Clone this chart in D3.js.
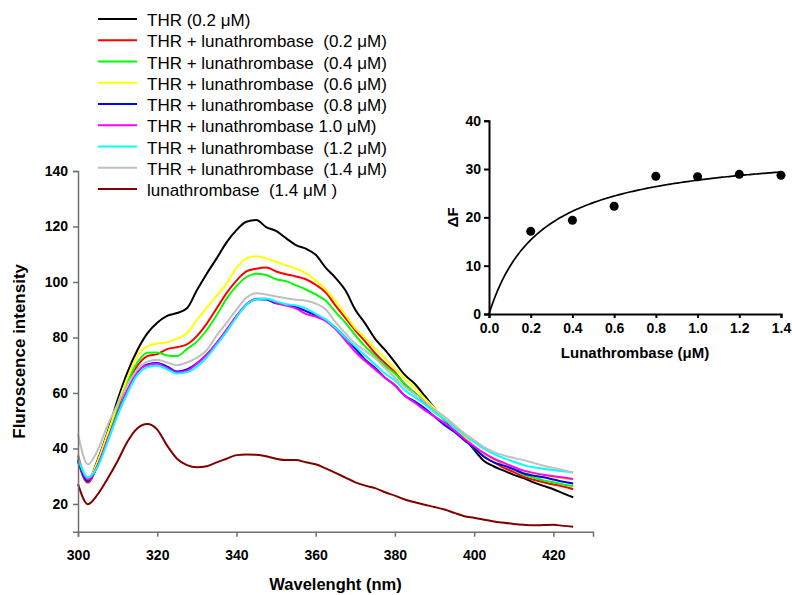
<!DOCTYPE html>
<html>
<head>
<meta charset="utf-8">
<script src="https://cdn.jsdelivr.net/npm/d3@7"></script>
<style>
  html, body { margin: 0; padding: 0; background: #fff; }
  svg { display: block; font-family: "Liberation Sans", Arial, sans-serif; }
</style>
</head>
<body>
<div id="chart"></div>
<script>
// Emission spectra (nm -> intensity)
const wavelengths = [
  300, 302.5, 305, 307.5, 310, 312.5, 315, 317.5, 320, 322.5,
  325, 327.5, 330, 332.5, 335, 337.5, 340, 342.5, 345, 347.5,
  350, 352.5, 355, 357.5, 360, 362.5, 365, 367.5, 370, 372.5,
  375, 377.5, 380, 382.5, 385, 387.5, 390, 392.5, 395, 397.5,
  400, 402.5, 405, 407.5, 410, 412.5, 415, 417.5, 420, 422.5, 425,
];

const thr02 = [
  36, 28.5, 36, 46, 57.5, 67.5, 75.5, 81.5, 85.3, 87.8,
  88.8, 90.5, 97, 103, 108.5, 114.3, 118.7, 121.7, 122.3, 119.8,
  118.4, 115.8, 113.3, 112, 109.8, 105.2, 101.5, 97, 90, 85,
  79.5, 75.5, 71, 66.5, 63.3, 59, 54.5, 50.3, 47, 44,
  39.5, 35.5, 33.5, 32, 30.5, 29.3, 27.8, 26.5, 25.3, 23.8, 22.4,
];
const lun02 = [
  35.2, 27.7, 34.5, 44.5, 54.5, 63.5, 69.8, 73.3, 74, 75.8,
  76.5, 77.5, 80.5, 85, 90.5, 96, 100.5, 103.8, 104.8, 105.2,
  103.8, 102.8, 102, 101, 99, 96.3, 91.5, 87, 82.5, 78.5,
  74.3, 70.8, 67.5, 63, 60, 56.5, 53.8, 51, 47.8, 44.5,
  40.5, 37, 35, 33, 31.5, 29.8, 28.7, 27.8, 27, 26.3, 25.3,
];
const lun04 = [
  36, 28.2, 35, 45, 55, 64, 71, 74.5, 74.6, 73.5,
  73.3, 75.8, 78.5, 82.7, 88, 94, 98.5, 101.8, 103, 102.5,
  101, 100.3, 98.8, 97.3, 95.5, 93.3, 89.2, 85.3, 80.8, 76.8,
  73.3, 69.8, 67, 63.3, 60, 57, 53.5, 50.5, 47.3, 44,
  40, 37.5, 35.8, 34, 32.5, 30.5, 29.5, 28.5, 27.8, 27, 26.5,
];
const lun06 = [
  38, 28.8, 35.5, 45.5, 56, 65.5, 73.5, 76.8, 77.8, 78.3,
  79.6, 81.5, 86.3, 90.8, 95, 99.4, 105, 108.5, 109.3, 108.5,
  107.3, 106, 104.8, 103.2, 100.5, 97.3, 93, 88.2, 83.3, 79.8,
  76, 72.5, 68.8, 65.2, 61.8, 58, 54.5, 51, 47.5, 44.5,
  40.5, 38, 35.5, 34, 32.5, 31.5, 30.5, 30, 29.5, 29.2, 28.7,
];
const lun08 = [
  36, 28.3, 34, 43, 52.5, 61, 67.5, 70.3, 70.8, 69.5,
  67.7, 68.5, 70.7, 73.8, 78, 82.5, 87.5, 91.8, 93.8, 93.7,
  92.3, 91.8, 91, 89.5, 88, 86.3, 83.5, 80, 76, 72,
  69, 65.5, 62.8, 59, 57, 54.5, 51.5, 48.5, 46, 43,
  40.2, 37, 35, 33.8, 32.5, 31, 30.2, 29.6, 28.8, 28, 27.4,
];
const lun10 = [
  37.5, 28.8, 34, 43.5, 52.5, 61, 67.8, 70, 70.5, 69,
  67.4, 68, 70.5, 73.8, 78, 82.8, 87.8, 92, 94, 94,
  92.5, 91.5, 90.5, 88.5, 87.5, 86, 83, 79, 74.8, 71.5,
  68.5, 65.5, 62.8, 59, 56.5, 53.8, 51.5, 49.2, 46.5, 43.5,
  40.8, 38.3, 36.3, 34.8, 33.3, 32, 31.2, 30.5, 30, 29.5, 29,
];
const lun12 = [
  36.5, 29.6, 33.5, 42.5, 52, 60, 66.5, 69.3, 69.8, 68.5,
  67, 67.5, 69.5, 72.8, 77.3, 82, 87.3, 91.8, 93.8, 94,
  93, 92, 91.5, 90.5, 88.5, 86.5, 83.5, 80, 76.8, 73.5,
  70.3, 67, 64.5, 61, 58.5, 56, 53, 50.5, 47.5, 45,
  42.3, 39.8, 38, 36.5, 35.2, 34, 33.2, 32.7, 32.2, 31.8, 31.3,
];
const lun14 = [
  45.2, 34.3, 39.5, 48.5, 56, 63, 68.5, 71.3, 72, 71,
  70, 71, 72.7, 75.5, 80.7, 85.3, 90, 94.3, 95.9, 95.5,
  94.8, 94.1, 93.6, 93.2, 92.2, 90.2, 85.5, 81.5, 77.8, 75.2,
  72.5, 69, 65.5, 62.2, 59.5, 57, 54, 51.5, 48.5, 45.5,
  43, 40.5, 38.7, 37.5, 36.6, 35.8, 34.8, 33.8, 33, 32.2, 31.3,
];
const lunOnly = [
  27.2, 19.9, 23.5, 29.2, 35.5, 42.5, 47.3, 48.8, 46.8, 41,
  36.3, 34, 33.2, 33.6, 35, 36.3, 37.6, 37.8, 37.7, 37.2,
  36.3, 35.8, 35.8, 35, 34.3, 32.8, 31.2, 29.5, 27.8, 26.6,
  25.7, 24.2, 23, 21.6, 20.6, 19.7, 18.9, 18, 16.8, 15.6,
  15, 14.3, 13.7, 13.2, 12.8, 12.5, 12.3, 12.4, 12.5, 12.1, 11.8,
];

const seriesLabels = [
  "THR (0.2 μM)",
  "THR + lunathrombase  (0.2 μM)",
  "THR + lunathrombase  (0.4 μM)",
  "THR + lunathrombase  (0.6 μM)",
  "THR + lunathrombase  (0.8 μM)",
  "THR + lunathrombase 1.0 μM)",
  "THR + lunathrombase  (1.2 μM)",
  "THR + lunathrombase  (1.4 μM)",
  "lunathrombase  (1.4 μM )",
];
const seriesValues = [thr02, lun02, lun04, lun06, lun08, lun10, lun12, lun14, lunOnly];
const seriesColors = [
  "#000000", "#ff0000", "#00ff00", "#ffff00", "#0000ff",
  "#ff00ff", "#00ffff", "#c0c0c0", "#800000",
];

const xTicks = [300, 320, 340, 360, 380, 400, 420];
const yTicks = [20, 40, 60, 80, 100, 120, 140];

// Inset: ΔF vs lunathrombase concentration
const insetConc = [0.2, 0.4, 0.6, 0.8, 1.0, 1.2, 1.4];
const insetDeltaF = [17.1, 19.4, 22.3, 28.5, 28.4, 28.9, 28.7];
const insetXTicks = [0, 0.2, 0.4, 0.6, 0.8, 1.0, 1.2, 1.4];
const insetYTicks = [0, 10, 20, 30, 40];
// one-site binding fit parameters
const fitBmax = 34.7;
const fitKd = 0.253;

const width = 792;
const height = 595;

const svg = d3
  .select("#chart")
  .append("svg")
  .attr("width", width)
  .attr("height", height)
  .attr("viewBox", [0, 0, width, height]);

function styleAxis(g, color, strokeWidth) {
  g.select(".domain").attr("stroke", color).attr("stroke-width", strokeWidth);
  g.selectAll(".tick line").attr("stroke", color).attr("stroke-width", strokeWidth);
  g.selectAll(".tick text")
    .attr("fill", "#000")
    .style("font-size", "14px")
    .style("font-weight", "bold")
    .style("font-family", "'Liberation Sans', Arial, sans-serif");
}

function drawMain() {
  const x = d3.scaleLinear().domain([300, 430]).range([78, 593]);
  const y = d3.scaleLinear().domain([10, 140]).range([531.7, 171]);

  const line = d3
    .line()
    .x((d, i) => x(wavelengths[i]))
    .y((d) => y(d))
    .curve(d3.curveMonotoneX);

  svg
    .append("g")
    .selectAll("path")
    .data(seriesValues)
    .join("path")
    .attr("fill", "none")
    .attr("stroke", (d, i) => seriesColors[i])
    .attr("stroke-width", 2)
    .attr("stroke-linejoin", "round")
    .attr("d", line);

  const xAxis = svg
    .append("g")
    .attr("transform", `translate(0,${y(10)})`)
    .call(d3.axisBottom(x).tickValues(xTicks).tickSize(5).tickPadding(13));

  const yAxis = svg
    .append("g")
    .attr("transform", `translate(${x(300)},0)`)
    .call(d3.axisLeft(y).tickValues(yTicks).tickSize(5).tickPadding(5));

  styleAxis(xAxis, "#707070", 1.5);
  styleAxis(yAxis, "#707070", 1.5);

  svg
    .append("text")
    .attr("x", (x(300) + x(430)) / 2)
    .attr("y", 590)
    .attr("text-anchor", "middle")
    .style("font-size", "16.5px")
    .style("font-weight", "bold")
    .text("Wavelenght (nm)");

  svg
    .append("text")
    .attr("transform", `translate(25,${(y(10) + y(140)) / 2}) rotate(-90)`)
    .attr("text-anchor", "middle")
    .style("font-size", "17px")
    .style("font-weight", "bold")
    .text("Fluroscence intensity");
}

function drawLegend() {
  const rows = svg
    .append("g")
    .selectAll("g")
    .data(seriesLabels)
    .join("g")
    .attr("transform", (d, i) => `translate(0,${26 + i * 21.25})`);

  rows
    .append("line")
    .attr("x1", 98)
    .attr("x2", 137)
    .attr("y1", -7)
    .attr("y2", -7)
    .attr("stroke", (d, i) => seriesColors[i])
    .attr("stroke-width", 2);

  rows
    .append("text")
    .attr("x", 147)
    .attr("y", 0)
    .style("font-size", "17px")
    .style("white-space", "pre")
    .text((d) => d);
}

function drawInset() {
  const x = d3.scaleLinear().domain([0, 1.4]).range([489, 781]);
  const y = d3.scaleLinear().domain([0, 40]).range([314, 120.7]);

  const fitLine = d3
    .line()
    .x((c) => x(c))
    .y((c) => y((fitBmax * c) / (fitKd + c)));

  const fitX = d3.range(0, 1.4001, 0.01);

  svg
    .append("path")
    .datum(fitX)
    .attr("fill", "none")
    .attr("stroke", "#000")
    .attr("stroke-width", 1.7)
    .attr("d", fitLine);

  svg
    .append("g")
    .selectAll("circle")
    .data(insetDeltaF)
    .join("circle")
    .attr("cx", (d, i) => x(insetConc[i]))
    .attr("cy", (d) => y(d))
    .attr("r", 4.5)
    .attr("fill", "#000");

  const xAxis = svg
    .append("g")
    .attr("transform", `translate(0,${y(0)})`)
    .call(
      d3
        .axisBottom(x)
        .tickValues(insetXTicks)
        .tickFormat(d3.format(".1f"))
        .tickSize(4)
        .tickPadding(5),
    );

  const yAxis = svg
    .append("g")
    .attr("transform", `translate(${x(0)},0)`)
    .call(d3.axisLeft(y).tickValues(insetYTicks).tickSize(5).tickPadding(3));

  styleAxis(xAxis, "#000", 2);
  styleAxis(yAxis, "#000", 2);

  svg
    .append("text")
    .attr("x", (x(0) + x(1.4)) / 2)
    .attr("y", 358)
    .attr("text-anchor", "middle")
    .style("font-size", "15px")
    .style("font-weight", "bold")
    .text("Lunathrombase (μM)");

  svg
    .append("text")
    .attr("transform", `translate(458,${(y(0) + y(40)) / 2}) rotate(-90)`)
    .attr("text-anchor", "middle")
    .style("font-size", "15px")
    .style("font-weight", "bold")
    .text("ΔF");
}

drawMain();
drawLegend();
drawInset();
</script>
</body>
</html>
